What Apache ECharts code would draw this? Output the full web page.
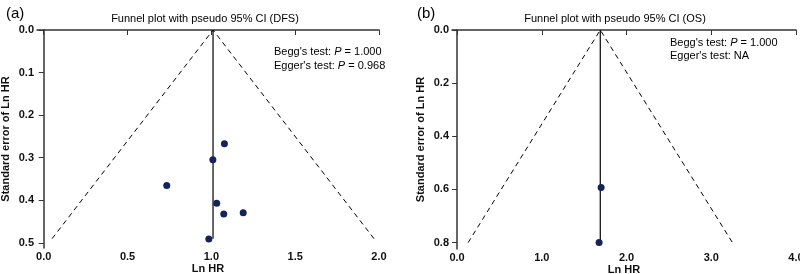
<!DOCTYPE html>
<html><head><meta charset="utf-8">
<script src="https://cdn.jsdelivr.net/npm/echarts@6/dist/echarts.min.js"></script>
<style>html,body{margin:0;padding:0;background:#fff}#c{width:800px;height:274px}</style>
</head><body><div id="c"></div>
<script>
// Panel (a) DFS
const dfsPoints = [[1.078,0.267],[1.009,0.305],[0.734,0.365],[1.032,0.407],[1.074,0.432],[1.19,0.429],[0.985,0.491]];
const dfsPooled = [[1.01,0],[1.01,0.49]];
const dfsFunnel = [[0.05,0.49],[1.01,0],[1.97,0.49]];
const dfsXTicks = [0,0.5,1.0,1.5,2.0];
const dfsYTicks = [0,0.1,0.2,0.3,0.4,0.5];
// Panel (b) OS
const osPoints = [[1.70,0.593],[1.676,0.80]];
const osPooled = [[1.69,0],[1.69,0.80]];
const osFunnel = [[0.13,0.80],[1.69,0],[3.25,0.80]];
const osXTicks = [0,1.0,2.0,3.0,4.0];
const osYTicks = [0,0.2,0.4,0.6,0.8];

const FONT = 'Liberation Sans';
const axisCol = '#333';
function xAx(idx, min, max, ticks){
  return {type:'value', gridIndex:idx, min, max, name:'Ln HR', nameLocation:'middle', nameGap:15, nameMoveOverlap:false,
    nameTextStyle:{fontFamily:FONT,fontSize:11,fontWeight:'bold',color:'#111'},
    axisLine:{show:true,lineStyle:{color:axisCol,width:1.5}},
    axisTick:{show:true,length:5,lineStyle:{color:axisCol,width:1},customValues:ticks},
    axisLabel:{fontFamily:FONT,fontSize:11,fontWeight:'bold',color:'#111',margin:3,customValues:ticks,formatter:v=>v.toFixed(1)},
    splitLine:{show:false}};
}
function yAx(idx, min, max, ticks){
  return {type:'value', gridIndex:idx, min, max, inverse:true, name:'Standard error of Ln HR', nameLocation:'middle', nameGap:26, nameMoveOverlap:false,
    nameTextStyle:{fontFamily:FONT,fontSize:11,fontWeight:'bold',color:'#111'},
    axisLine:{show:true,lineStyle:{color:axisCol,width:1.5}},
    axisTick:{show:true,length:5,lineStyle:{color:axisCol,width:1},customValues:ticks},
    axisLabel:{fontFamily:FONT,fontSize:11,fontWeight:'bold',color:'#111',margin:3,customValues:ticks,formatter:v=>v.toFixed(1)},
    splitLine:{show:false}};
}
const chart = echarts.init(document.getElementById('c'), null, {renderer:'canvas'});
const dotCol = '#14235a';
function series(idx, pts, pooled, funnel){
  return [
    {type:'line', xAxisIndex:idx, yAxisIndex:idx, data:funnel, symbol:'none', silent:true,
     lineStyle:{color:'#000',width:1,type:[5,4]}, z:2},
    {type:'line', xAxisIndex:idx, yAxisIndex:idx, data:pooled, symbol:'none', silent:true,
     lineStyle:{color:'#000',width:1.2}, z:3},
    {type:'scatter', xAxisIndex:idx, yAxisIndex:idx, data:pts, symbol:'circle', symbolSize:7,
     itemStyle:{color:dotCol,opacity:1}, z:4}
  ];
}
const rich = {n:{fontFamily:FONT,fontSize:11,color:'#000'}, i:{fontFamily:FONT,fontSize:11,fontStyle:'italic',color:'#000'}};
chart.setOption({
  animation:false,
  title:[
    {text:'Funnel plot with pseudo 95% CI (DFS)', left:200, top:8, textAlign:'center', textStyle:{fontFamily:FONT,fontSize:11,fontWeight:'normal',color:'#000'}},
    {text:'Funnel plot with pseudo 95% CI (OS)', left:610, top:8, textAlign:'center', textStyle:{fontFamily:FONT,fontSize:11,fontWeight:'normal',color:'#000'}},
    {text:'(a)', left:1, top:1, textStyle:{fontFamily:FONT,fontSize:15,fontWeight:'normal',color:'#000'}},
    {text:'(b)', left:412, top:1, textStyle:{fontFamily:FONT,fontSize:15,fontWeight:'normal',color:'#000'}}
  ],
  grid:[
    {left:37, top:30, width:342, height:218, outerBoundsMode:'none', containLabel:false},
    {left:452, top:30, width:344, height:219, outerBoundsMode:'none', containLabel:false}
  ],
  xAxis:[xAx(0,-0.04,2.0,dfsXTicks), xAx(1,-0.06,4.0,osXTicks)],
  yAxis:[yAx(0,0,0.512,dfsYTicks), yAx(1,0,0.824,osYTicks)],
  series:[...series(0,dfsPoints,dfsPooled,dfsFunnel), ...series(1,osPoints,osPooled,osFunnel)],
  graphic:[
    {type:'text', left:274, top:45, style:{text:'{n|Begg\'s test: }{i|P}{n| = 1.000}\n{n|Egger\'s test: }{i|P}{n| = 0.968}', rich, lineHeight:14}},
    {type:'text', left:670, top:36, style:{text:'{n|Begg\'s test: }{i|P}{n| = 1.000}\n{n|Egger\'s test: NA}', rich, lineHeight:13}}
  ]
});
</script></body></html>
